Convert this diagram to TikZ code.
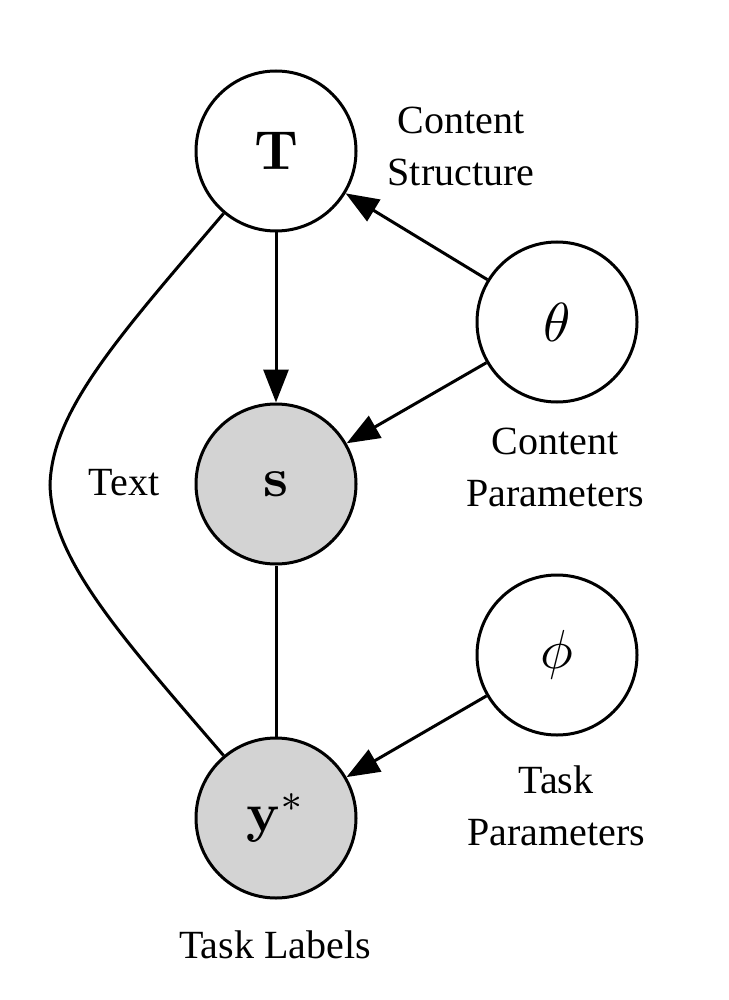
\documentclass[tikz,border=0pt]{standalone}
\usepackage[no-math]{fontspec}
\setmainfont{Liberation Serif}
\usetikzlibrary{arrows.meta}
\definecolor{obsgray}{HTML}{D3D3D3}
\newcommand{\bigmath}[1]{\scalebox{5.5}{\fontsize{10}{12}\selectfont$#1$}}
\begin{document}
\begin{tikzpicture}[x=1pt,y=-1pt,
  var/.style={circle, draw, line width=3pt, minimum size=160pt, inner sep=0pt},
  obs/.style={var, fill=obsgray},
  lbl/.style={font=\fontsize{40}{52}\selectfont, align=center, inner sep=0pt},
  arr/.style={line width=3pt, -{Triangle[length=33pt,width=25pt]}},
  plainline/.style={line width=3pt}]
\useasboundingbox (0,0) rectangle (728,1000);
\node[var] (T) at (276,151) {\bigmath{\mathbf{T}}};
\node[var] (th) at (557,322) {\bigmath{\theta}};
\node[obs] (S) at (276,484) {\bigmath{\mathbf{s}}};
\node[var] (ph) at (557,655) {\bigmath{\phi}};
\node[obs] (Y) at (276,818) {\bigmath{\mathbf{y}^*}};
\node[lbl] (cs) at (461,146) {Content\\Structure};
\node[lbl] (cp) at (555,467) {Content\\Parameters};
\node[lbl] (tp) at (556,806) {Task\\Parameters};
\node[lbl, anchor=base] (tl) at (275,958) {Task Labels};
\node[lbl, anchor=base] (tx) at (124,495) {Text};
\draw[arr] (T) -- (S);
\draw[arr] (th) -- (T);
\draw[arr] (th) -- (S);
\draw[arr] (ph) -- (Y);
\draw[plainline] (S) -- (Y);
\coordinate (bend) at (50,485);
\draw[plainline] (T.230) .. controls (120,335) and (52,410) .. (bend) .. controls (52,560) and (120,635) .. (Y.130);
\end{tikzpicture}
\end{document}
